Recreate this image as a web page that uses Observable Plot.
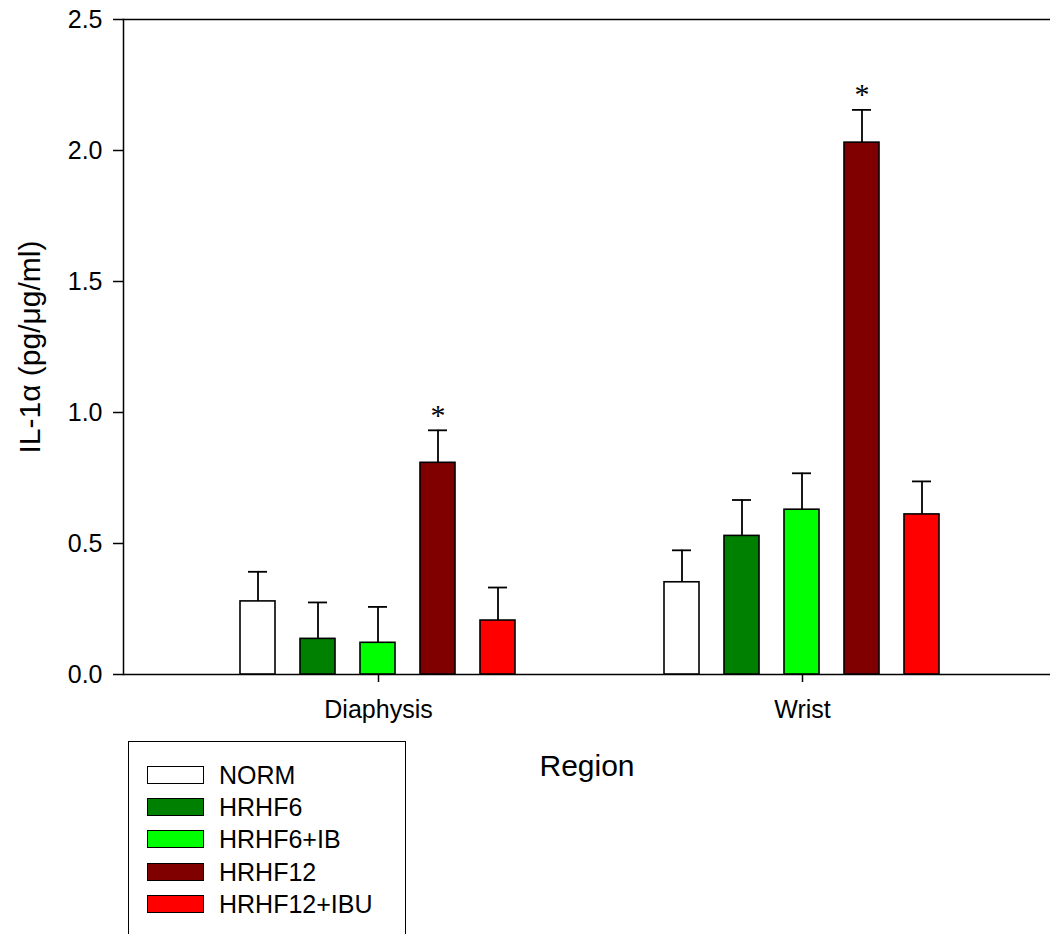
<!DOCTYPE html>
<html><head><meta charset="utf-8">
<script src="https://cdn.jsdelivr.net/npm/d3@7"></script>
<script src="https://cdn.jsdelivr.net/npm/@observablehq/plot@0.6"></script>
<style>
body{margin:0;background:#fff;font-family:"Liberation Sans",Arial,sans-serif;}
#wrap{position:relative;width:1050px;height:934px;overflow:hidden;background:#fff;}
#wrap svg{position:absolute;left:0;top:0;}
#legend{position:absolute;left:128px;top:741px;width:278px;height:215px;border:1.5px solid #000;box-sizing:border-box;}
.item{position:absolute;left:18px;height:20px;display:flex;align-items:center;}
.sw{width:57px;height:18px;border:1.5px solid #000;box-sizing:border-box;}
.lab{margin-left:15px;font-size:25px;color:#000;line-height:20px;}
</style></head><body><div id="wrap"></div>
<script>
const regions = ["Diaphysis", "Wrist"];
const groups = ["NORM", "HRHF6", "HRHF6+IB", "HRHF12", "HRHF12+IBU"];
const groupColors = ["#ffffff", "#008000", "#00ff00", "#800000", "#ff0000"];
const diaphysisMean = [0.279, 0.136, 0.121, 0.808, 0.206];
const diaphysisSE = [0.113, 0.139, 0.137, 0.124, 0.126];
const wristMean = [0.352, 0.529, 0.629, 2.030, 0.611];
const wristSE = [0.122, 0.137, 0.139, 0.125, 0.126];
const diaphysisStar = [false, false, false, true, false];
const wristStar = [false, false, false, true, false];
const yTicks = [0, 0.5, 1.0, 1.5, 2.0, 2.5];
const yLabel = "IL-1\u03b1 (pg/\u03bcg/ml)";
const xLabel = "Region";

const means = [diaphysisMean, wristMean];
const ses = [diaphysisSE, wristSE];
const stars = [diaphysisStar, wristStar];
const rows = [];
regions.forEach((r, ri) => groups.forEach((g, gi) => rows.push({
  region: r, group: g, mean: means[ri][gi], se: ses[ri][gi],
  top: means[ri][gi] + ses[ri][gi], star: stars[ri][gi]
})));

const font = '"Liberation Sans", Arial, sans-serif';
const common = {
  width: 1050, height: 800,
  marginLeft: 123, marginRight: 0, marginTop: 19, marginBottom: 126,
  style: {fontFamily: font, fontSize: "25px", color: "#000", background: "none", overflow: "visible"}
};

// Frame, y axis and axis titles (unfaceted)
const axesPlot = Plot.plot({
  ...common,
  y: {domain: [0, 2.5], axis: null},
  marks: [
    Plot.frame({anchor: "top", stroke: "#000", strokeWidth: 1.5}),
    Plot.frame({anchor: "left", stroke: "#000", strokeWidth: 1.5}),
    Plot.ruleY([0], {stroke: "#000", strokeWidth: 1.5}),
    Plot.axisY({anchor: "left", ticks: yTicks, tickFormat: d3.format(".1f"), tickSize: 10, tickPadding: 11, fontSize: 25, label: null, strokeWidth: 1.5}),
    Plot.text([yLabel], {frameAnchor: "left", textAnchor: "middle", text: d => d, rotate: -90, dx: -93, fontSize: 30}),
    Plot.text([xLabel], {frameAnchor: "bottom", textAnchor: "middle", text: d => d, dy: 101, fontSize: 30})
  ]
});

// Bars, error bars and region axis (faceted by region)
const barsPlot = Plot.plot({
  ...common,
  fx: {domain: regions, paddingInner: 0.2824, paddingOuter: 0.2318, align: 0.52},
  x: {domain: groups, paddingInner: 0.41, paddingOuter: 0.205, axis: null},
  y: {domain: [0, 2.5], axis: null},
  color: {domain: groups, range: groupColors},
  marks: [
    Plot.barY(rows, {fx: "region", x: "group", y: "mean", fill: "group", stroke: "#000", strokeWidth: 1.6}),
    Plot.ruleX(rows, {fx: "region", x: "group", y1: "mean", y2: "top", stroke: "#000", strokeWidth: 1.8}),
    Plot.tickY(rows, {fx: "region", x: "group", y: "top", stroke: "#000", strokeWidth: 1.8, insetLeft: 8, insetRight: 8}),
    Plot.text(rows.filter(d => d.star), {fx: "region", x: "group", y: "top", text: () => "*", dy: -15, fontSize: 30, fontFamily: '"Liberation Serif", "Times New Roman", serif'}),
    Plot.axisFx({anchor: "bottom", tickSize: 8, tickPadding: 18, fontSize: 25, label: null, strokeWidth: 1.5})
  ]
});

const wrap = document.getElementById("wrap");
wrap.appendChild(axesPlot);
wrap.appendChild(barsPlot);

const legend = document.createElement("div");
legend.id = "legend";
groups.forEach((g, i) => {
  const item = document.createElement("div");
  item.className = "item";
  item.style.top = (23 + i * 32.2) + "px";
  const sw = document.createElement("div");
  sw.className = "sw";
  sw.style.background = groupColors[i];
  const lab = document.createElement("span");
  lab.className = "lab";
  lab.textContent = g;
  item.appendChild(sw); item.appendChild(lab);
  legend.appendChild(item);
});
wrap.appendChild(legend);
</script></body></html>
